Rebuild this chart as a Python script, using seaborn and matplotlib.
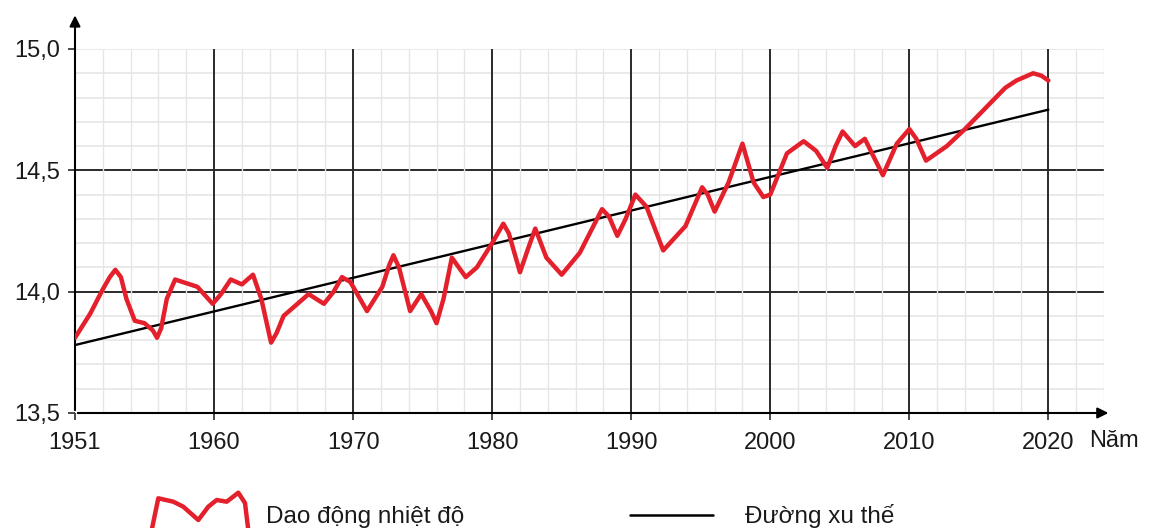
import numpy as np
import pandas as pd
import matplotlib
matplotlib.use("Agg")
import matplotlib.pyplot as plt
import seaborn as sns

# temperature curve (axis origin is drawn at 1950 and labelled 1951)
curve_year = [1950.0, 1951.1, 1952.0, 1952.5, 1952.9, 1953.3, 1953.7, 1954.3, 1955.0, 1955.6,
              1955.9, 1956.2, 1956.6, 1957.2, 1958.8, 1959.9, 1960.5, 1961.2, 1962.0, 1962.8,
              1963.4, 1964.1, 1964.5, 1965.0, 1966.8, 1967.9, 1968.6, 1969.2, 1969.8, 1971.0,
              1972.1, 1972.6, 1972.9, 1973.3, 1974.1, 1974.9, 1975.6, 1976.0, 1976.5, 1977.1,
              1978.1, 1978.9, 1980.0, 1980.8, 1981.2, 1982.0, 1982.6, 1983.1, 1983.9, 1985.0,
              1986.3, 1987.9, 1988.4, 1989.0, 1989.6, 1990.3, 1991.1, 1992.3, 1993.9, 1995.1,
              1995.5, 1996.0, 1997.0, 1998.0, 1998.8, 1999.5, 2000.0, 2001.2, 2002.4, 2003.3,
              2004.1, 2004.7, 2005.2, 2006.1, 2006.8, 2007.4, 2008.1, 2009.1, 2010.0, 2010.5,
              2011.2, 2012.7, 2014.0, 2016.9, 2017.7, 2018.9, 2019.5, 2020.0]
curve_temp = [13.81, 13.91, 14.01, 14.06, 14.09, 14.06, 13.97, 13.88, 13.87, 13.84,
              13.81, 13.85, 13.97, 14.05, 14.02, 13.95, 13.99, 14.05, 14.03, 14.07,
              13.97, 13.79, 13.83, 13.90, 13.99, 13.95, 14.00, 14.06, 14.04, 13.92,
              14.02, 14.11, 14.15, 14.10, 13.92, 13.99, 13.92, 13.87, 13.97, 14.14,
              14.06, 14.10, 14.20, 14.28, 14.24, 14.08, 14.18, 14.26, 14.14, 14.07,
              14.16, 14.34, 14.31, 14.23, 14.30, 14.40, 14.35, 14.17, 14.27, 14.43,
              14.40, 14.33, 14.45, 14.61, 14.45, 14.39, 14.40, 14.57, 14.62, 14.58,
              14.51, 14.60, 14.66, 14.60, 14.63, 14.56, 14.48, 14.61, 14.67, 14.63,
              14.54, 14.60, 14.67, 14.84, 14.87, 14.90, 14.89, 14.87]

trend_year = [1950, 2020]
trend_temp = [13.78, 14.75]

x_ticks = [1950, 1960, 1970, 1980, 1990, 2000, 2010, 2020]
x_labels = ["1951", "1960", "1970", "1980", "1990", "2000", "2010", "2020"]
y_ticks = [13.5, 14.0, 14.5, 15.0]
y_labels = ["13,5", "14,0", "14,5", "15,0"]

# legend symbol shape (figure pixels)
icon_x = [151.7, 158.3, 173.3, 183.3, 198.3, 208.3, 216.7, 226.7, 238.3, 245.0, 248.3]
icon_y = [530.0, 498.3, 501.7, 506.7, 520.0, 506.7, 500.0, 501.7, 492.7, 503.0, 530.0]

RED = "#e3202b"
DARK = "#2a2a2a"
LIGHT = "#e6e6e6"
TXT = "#1a1a1a"

sns.set_theme(style="white")
plt.rcParams["font.family"] = ["Liberation Sans", "DejaVu Sans"]

W, H = 1151, 528
fig = plt.figure(figsize=(W / 100, H / 100), dpi=100)
ax = fig.add_axes([75 / W, 1 - 413 / H, 1029 / W, 364 / H])
ax.set_xlim(1950, 2024)
ax.set_ylim(13.5, 15.0)

# light grid: every 2 years, every 0.1 degree
for v in np.arange(1952, 2025, 2):
    if v not in x_ticks:
        ax.axvline(v, color=LIGHT, lw=1.0, zorder=1.5)
for v in np.arange(13.6, 15.01, 0.1):
    if round(v, 1) not in (14.0, 14.5):
        ax.axhline(v, color=LIGHT, lw=1.2, zorder=1)
# dark grid
for v in x_ticks[1:]:
    ax.axvline(v, color=DARK, lw=1.4, zorder=1.2)
for v in (14.0, 14.5):
    ax.axhline(v, color=DARK, lw=1.4, zorder=1.2)

df_curve = pd.DataFrame({"year": curve_year, "temp": curve_temp})
df_trend = pd.DataFrame({"year": trend_year, "temp": trend_temp})
sns.lineplot(data=df_trend, x="year", y="temp", ax=ax, color="black", lw=1.7, zorder=3)
sns.lineplot(data=df_curve, x="year", y="temp", ax=ax, color=RED, lw=3.2, zorder=4,
             solid_joinstyle="round", solid_capstyle="round")

for s in ax.spines.values():
    s.set_visible(False)
ax.set_xlabel("")
ax.set_ylabel("")
ax.set_xticks(x_ticks, x_labels)
ax.set_yticks(y_ticks, y_labels)
ax.tick_params(axis="both", which="major", labelsize=17, length=5, width=1.2,
               color=DARK, labelcolor=TXT, bottom=True, left=True)
ax.tick_params(axis="x", pad=9)
ax.tick_params(axis="y", pad=6)

# axes with arrow heads
ax.annotate("", xy=(0, 1.1), xytext=(0, 0), xycoords="axes fraction",
            arrowprops=dict(arrowstyle="-|>", color="black", lw=1.5, mutation_scale=16),
            annotation_clip=False)
ax.annotate("", xy=(1.007, 0), xytext=(0, 0), xycoords="axes fraction",
            arrowprops=dict(arrowstyle="-|>", color="black", lw=1.5, mutation_scale=16),
            annotation_clip=False)
fig.text(1089 / W, 1 - 441 / H, "Năm", fontsize=17, va="center", ha="left", color=TXT)

# cut-off axis title at the very top
fig.text(0.0, 1 + 6 / H, "Nhiệt độ (°C)", fontsize=17, va="baseline", ha="left", color=TXT)

# legend drawn in figure pixels
lg = fig.add_axes([0, 0, 1, 1], zorder=5)
lg.set_xlim(0, W)
lg.set_ylim(H, 0)
lg.axis("off")
lg.patch.set_alpha(0)
lg.plot(icon_x, icon_y, color=RED, lw=3.2, solid_joinstyle="round")
lg.text(266, 523, "Dao động nhiệt độ", fontsize=17.5, va="baseline", ha="left", color=TXT)
lg.plot([630, 713], [515, 515], color="black", lw=1.8)
lg.text(745, 523, "Đường xu thế", fontsize=17.5, va="baseline", ha="left", color=TXT)

fig.savefig("out.png", dpi=100)
